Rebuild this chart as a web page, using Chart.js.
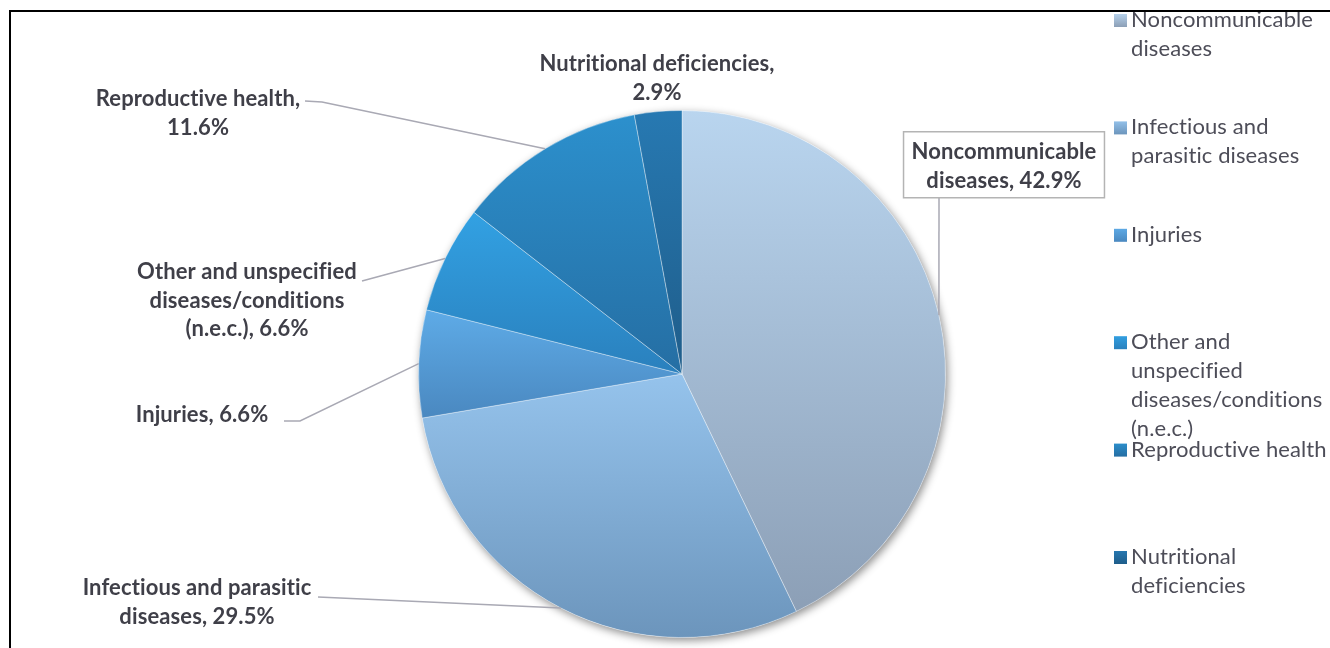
<!DOCTYPE html>
<html>
<head>
<meta charset="utf-8">
<script src="https://cdn.jsdelivr.net/npm/chart.js@4.4.1/dist/chart.umd.min.js"></script>
<style>
  html, body { margin: 0; padding: 0; background: #fff; }
  #wrap { position: relative; width: 1330px; height: 648px; }
</style>
</head>
<body>
<div id="wrap"><canvas id="graficoPizza"></canvas></div>
<script>
const categorias = [
  "Noncommunicable diseases",
  "Infectious and parasitic diseases",
  "Injuries",
  "Other and unspecified diseases/conditions (n.e.c.)",
  "Reproductive health",
  "Nutritional deficiencies"
];
const percentuais = [42.9, 29.5, 6.6, 6.6, 11.6, 2.9];

// gradient top / bottom for each slice
const coresTopo = ["#b9d5ef", "#95c3ec", "#5eabe7", "#32a1e3", "#2c90cd", "#2779b2"];
const coresBase = ["#8c9fb6", "#6c95bc", "#4a88c0", "#2a80bd", "#256ea3", "#1f5d8a"];

// label text centre, wrap width and leader points (from the slice edge outward)
const rotulos = [
  { x: 1004, y: 152, wrap: 205, box: true, leader: [[939, 198]] },
  { x: 197, y: 588, wrap: 250, leader: [[318, 597]] },
  { x: 202, y: 415, wrap: 300, leader: [[300, 421], [284, 421]] },
  { x: 247, y: 272, wrap: 240, leader: [[362, 281]] },
  { x: 198, y: 99, wrap: 225, leader: [[322, 102], [305, 101]] },
  { x: 657, y: 64, wrap: 270, leader: null }
];

const corTexto = "#3f3f48";
const fonteRotulo = "bold 22px Lato";
const fonteLegenda = "22px Lato";

function quebrar(ctx, texto, largura) {
  const palavras = texto.split(" ");
  const linhas = [];
  let atual = "";
  palavras.forEach(p => {
    const teste = atual ? atual + " " + p : p;
    if (atual && ctx.measureText(teste).width > largura) {
      linhas.push(atual);
      atual = p;
    } else {
      atual = teste;
    }
  });
  if (atual) linhas.push(atual);
  return linhas;
}

function anguloInicial(i) {
  const total = percentuais.reduce((a, b) => a + b, 0);
  let soma = 0;
  for (let k = 0; k < i; k++) soma += percentuais[k];
  return [soma / total * Math.PI * 2 - Math.PI / 2, (soma + percentuais[i]) / total * Math.PI * 2 - Math.PI / 2];
}

function preenchimento(context) {
  const chart = context.chart;
  const area = chart.chartArea;
  const i = context.dataIndex;
  if (!area) return coresTopo[i];
  const cx = (area.left + area.right) / 2;
  const cy = (area.top + area.bottom) / 2;
  const r = Math.min(area.width, area.height) / 2;
  const [a0, a1] = anguloInicial(i);
  const ys = [cy, cy + r * Math.sin(a0), cy + r * Math.sin(a1)];
  const dentro = a => {
    let t = a;
    while (t < a0) t += Math.PI * 2;
    return t <= a1;
  };
  if (dentro(-Math.PI / 2)) ys.push(cy - r);
  if (dentro(Math.PI / 2)) ys.push(cy + r);
  const g = chart.ctx.createLinearGradient(0, Math.min(...ys), 0, Math.max(...ys));
  g.addColorStop(0, coresTopo[i]);
  g.addColorStop(1, coresBase[i]);
  return g;
}

const moldura = {
  id: "moldura",
  afterDraw(chart) {
    const ctx = chart.ctx;
    ctx.save();
    ctx.strokeStyle = "#000";
    ctx.lineWidth = 2;
    ctx.beginPath();
    ctx.moveTo(1330, 11);
    ctx.lineTo(10, 11);
    ctx.lineTo(10, 648);
    ctx.stroke();
    ctx.restore();
  }
};

const sombra = {
  id: "sombra",
  beforeDatasetsDraw(chart) {
    const arc = chart.getDatasetMeta(0).data[0];
    if (!arc) return;
    const ctx = chart.ctx;
    ctx.save();
    ctx.shadowColor = "rgba(0,0,0,0.45)";
    ctx.shadowBlur = 8;
    ctx.shadowOffsetX = 2;
    ctx.shadowOffsetY = 3;
    ctx.fillStyle = "#fff";
    ctx.beginPath();
    ctx.arc(arc.x, arc.y, arc.outerRadius, 0, Math.PI * 2);
    ctx.fill();
    ctx.restore();
  }
};

const rotulosPizza = {
  id: "rotulosPizza",
  afterDatasetsDraw(chart) {
    const ctx = chart.ctx;
    const arcs = chart.getDatasetMeta(0).data;
    ctx.save();
    ctx.font = fonteRotulo;
    ctx.letterSpacing = "0.1px"; // keeps Lato from joining "ti"
    ctx.textAlign = "center";
    ctx.textBaseline = "middle";
    arcs.forEach((arc, i) => {
      const cfg = rotulos[i];
      const meio = (arc.startAngle + arc.endAngle) / 2;
      const px = arc.x + arc.outerRadius * Math.cos(meio);
      const py = arc.y + arc.outerRadius * Math.sin(meio);
      if (cfg.leader) {
        ctx.strokeStyle = "#a9a9b4";
        ctx.lineWidth = 1.5;
        ctx.beginPath();
        ctx.moveTo(px, py);
        cfg.leader.forEach(([lx, ly]) => ctx.lineTo(lx, ly));
        ctx.stroke();
      }
      const texto = categorias[i] + ", " + percentuais[i].toFixed(1) + "%";
      const linhas = quebrar(ctx, texto, cfg.wrap);
      const alt = 28.5;
      if (cfg.box) {
        const w = Math.max(...linhas.map(l => ctx.measureText(l).width)) + 16;
        const h = linhas.length * alt + 9;
        ctx.fillStyle = "#fff";
        ctx.fillRect(cfg.x - w / 2, cfg.y - alt / 2 - 6, w, h);
        ctx.strokeStyle = "#b4b4b4";
        ctx.lineWidth = 1.5;
        ctx.strokeRect(cfg.x - w / 2, cfg.y - alt / 2 - 6, w, h);
      }
      ctx.fillStyle = corTexto;
      linhas.forEach((l, k) => ctx.fillText(l, cfg.x, cfg.y + k * alt));
    });
    ctx.restore();
  }
};

const legenda = {
  id: "legenda",
  afterDraw(chart) {
    const ctx = chart.ctx;
    ctx.save();
    ctx.font = fonteLegenda;
    ctx.letterSpacing = "0.1px";
    ctx.textBaseline = "middle";
    ctx.textAlign = "left";
    categorias.forEach((nome, i) => {
      const y = 20 + i * 107.4;
      const g = ctx.createLinearGradient(0, y - 7, 0, y + 7);
      g.addColorStop(0, coresTopo[i]);
      g.addColorStop(1, coresBase[i]);
      ctx.fillStyle = g;
      ctx.fillRect(1114, y - 6, 13, 13);
      ctx.fillStyle = "#4d4d58";
      quebrar(ctx, nome, 200).forEach((l, k) => ctx.fillText(l, 1131, y + k * 29));
    });
    ctx.restore();
  }
};

new Chart(document.getElementById("graficoPizza"), {
  type: "pie",
  data: {
    labels: categorias,
    datasets: [{
      data: percentuais,
      backgroundColor: preenchimento,
      borderColor: "rgba(255,255,255,0.35)",
      borderWidth: 1
    }]
  },
  options: {
    responsive: true,
    maintainAspectRatio: false,
    animation: false,
    layout: { padding: { left: 418, right: 384, top: 110, bottom: 10 } },
    plugins: {
      legend: { display: false },
      tooltip: { enabled: false }
    }
  },
  plugins: [sombra, rotulosPizza, legenda, moldura]
});
</script>
</body>
</html>
